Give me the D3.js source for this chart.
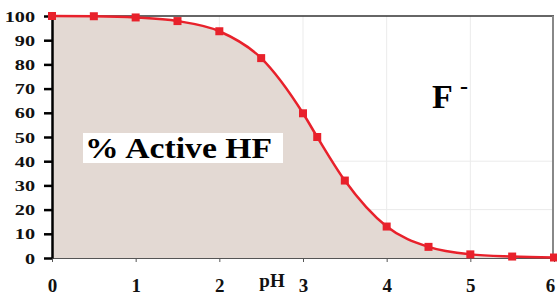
<!doctype html>
<html lang="en">
<head>
<meta charset="utf-8">
<title>% Active HF vs pH</title>
<script src="https://d3js.org/d3.v7.min.js"></script>
<style>
  body { margin: 0; background: #fff; }
  svg text { font-family: "Liberation Serif"; font-weight: 700; }
</style>
</head>
<body>
<div id="chart"></div>
<script>
// values
var phValues = [0, 0.5, 1, 1.5, 2, 2.5, 3, 3.17, 3.5, 4, 4.5, 5, 5.5, 6];
var activeHF = [100, 99.9, 99.4, 97.9, 93.7, 82.6, 59.8, 50, 32, 13, 4.6, 1.5, 0.6, 0.2];
var xTicks = [0, 1, 2, 3, 4, 5, 6];
var yTicks = [0, 10, 20, 30, 40, 50, 60, 70, 80, 90, 100];
var gridY = [20, 40];
var gridX = [1, 2, 3, 4, 5];

var width = 557, height = 296;
var margin = {top: 16, right: 3, bottom: 38, left: 52};
var serif = "'Liberation Serif'";

var data = phValues.map(function(p, i) { return {ph: p, hf: activeHF[i]}; });

var svg = d3.select("#chart")
  .append("svg")
    .attr("width", width)
    .attr("height", height);

var x = d3.scaleLinear()
  .domain([0, 6])
  .range([margin.left, width - margin.right]);

var y = d3.scaleLinear()
  .domain([0, 100])
  .range([height - margin.bottom, margin.top]);

// faint grid
svg.append("g")
  .selectAll("line")
  .data(gridY)
  .enter()
  .append("line")
    .attr("x1", x(0)).attr("x2", x(6))
    .attr("y1", function(d) { return y(d); })
    .attr("y2", function(d) { return y(d); })
    .attr("stroke", "#ebebeb")
    .attr("stroke-width", 1);

svg.append("g")
  .selectAll("line")
  .data(gridX)
  .enter()
  .append("line")
    .attr("x1", function(d) { return x(d); })
    .attr("x2", function(d) { return x(d); })
    .attr("y1", y(0)).attr("y2", y(100))
    .attr("stroke", "#ebebeb")
    .attr("stroke-width", 1);

// shaded area under the curve
var area = d3.area()
  .x(function(d) { return x(d.ph); })
  .y0(y(0))
  .y1(function(d) { return y(d.hf); })
  .curve(d3.curveMonotoneX);

svg.append("path")
  .datum(data)
  .attr("d", area)
  .attr("fill", "#e3d9d3");

// frame top and right
svg.append("line")
  .attr("x1", x(0)).attr("x2", x(6))
  .attr("y1", y(100)).attr("y2", y(100))
  .attr("stroke", "#333").attr("stroke-width", 1.5);
svg.append("line")
  .attr("x1", x(6) - 1).attr("x2", x(6) - 1)
  .attr("y1", y(100)).attr("y2", y(0))
  .attr("stroke", "#888").attr("stroke-width", 2);

// x axis
var xAxis = d3.axisBottom(x)
  .tickValues(xTicks)
  .tickSize(4)
  .tickSizeOuter(0)
  .tickFormat(d3.format("d"));

var gx = svg.append("g")
  .attr("transform", "translate(0," + y(0) + ")")
  .call(xAxis);
gx.attr("font-family", serif);
gx.select(".domain").attr("stroke", "#555").attr("stroke-width", 1.2);
gx.selectAll(".tick line").attr("stroke", "#555");
gx.selectAll(".tick text")
  .attr("fill", "#111")
  .attr("dy", null)
  .attr("y", 34)
  .attr("x", function(d) { return d === 6 ? -4 : 0; })
  .style("font-family", serif)
  .style("font-size", "19px");

// y axis
var sx = 1.35;
var yAxis = d3.axisLeft(y)
  .tickValues(yTicks)
  .tickSize(8)
  .tickSizeOuter(0);

var gy = svg.append("g")
  .attr("transform", "translate(" + x(0) + ",0)")
  .call(yAxis);
gy.attr("font-family", serif);
gy.select(".domain").attr("stroke", "#000").attr("stroke-width", 2.5);
gy.selectAll(".tick line").attr("stroke", "#000").attr("stroke-width", 2.5);
gy.selectAll(".tick text")
  .attr("fill", "#111")
  .attr("x", -17 / sx)
  .attr("dy", "0.34em")
  .attr("transform", "scale(" + sx + ",1)")
  .style("font-family", serif)
  .style("font-size", "15px");

// curve
var line = d3.line()
  .x(function(d) { return x(d.ph); })
  .y(function(d) { return y(d.hf); })
  .curve(d3.curveMonotoneX);

svg.append("path")
  .datum(data)
  .attr("d", line)
  .attr("fill", "none")
  .attr("stroke", "#e8212b")
  .attr("stroke-width", 2.5);

// square markers
svg.append("g")
  .selectAll("rect")
  .data(data)
  .enter()
  .append("rect")
    .attr("x", function(d) { return x(d.ph) - 4; })
    .attr("y", function(d) { return y(d.hf) - 4; })
    .attr("width", 8)
    .attr("height", 8)
    .attr("fill", "#e8212b");

// labels
svg.append("text")
  .attr("x", 272).attr("y", 287)
  .attr("text-anchor", "middle")
  .style("font-family", serif)
  .style("font-size", "19px")
  .attr("fill", "#111")
  .text("pH");

svg.append("rect")
  .attr("x", 83).attr("y", 133)
  .attr("width", 200).attr("height", 30)
  .attr("fill", "#fff");

svg.append("text")
  .attr("x", 85).attr("y", 158)
  .attr("textLength", 187)
  .attr("lengthAdjust", "spacingAndGlyphs")
  .style("font-family", serif)
  .style("font-size", "30px")
  .attr("fill", "#000")
  .text("% Active HF");

svg.append("text")
  .attr("x", 432).attr("y", 108)
  .style("font-family", serif)
  .style("font-size", "34px")
  .attr("fill", "#000")
  .text("F");
svg.append("text")
  .attr("x", 460).attr("y", 94)
  .style("font-family", serif)
  .style("font-size", "24px")
  .attr("fill", "#000")
  .text("-");
</script>
</body>
</html>
